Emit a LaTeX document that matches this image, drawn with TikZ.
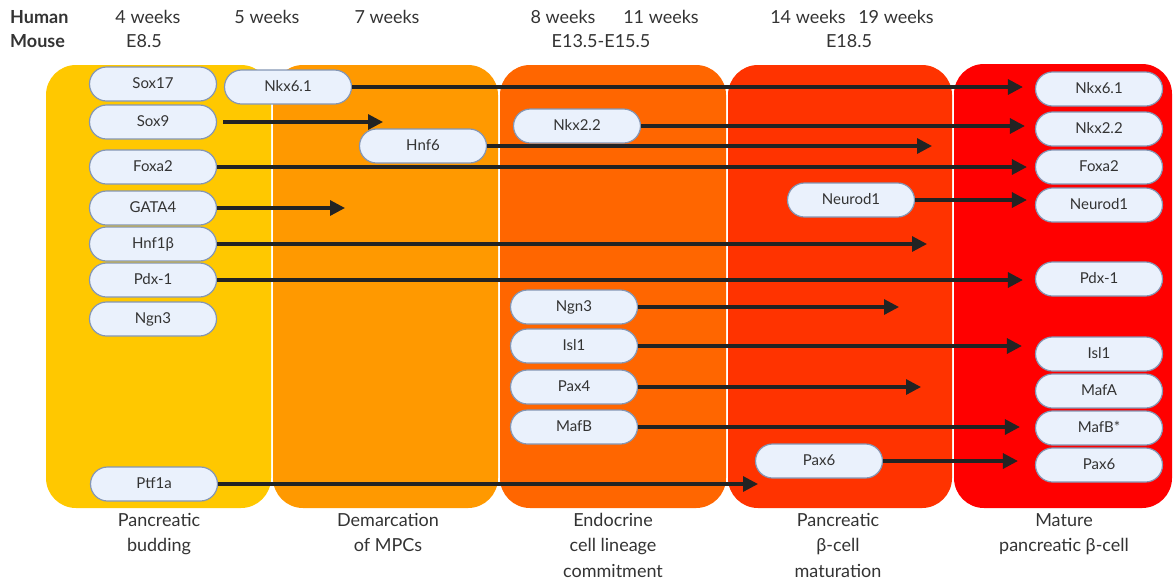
\documentclass[tikz,border=0pt]{standalone}
\usepackage{fontspec}
\setmainfont{Lato}
\usetikzlibrary{arrows.meta}
\definecolor{cA}{HTML}{FFC800}
\definecolor{cB}{HTML}{FF9900}
\definecolor{cC}{HTML}{FF6600}
\definecolor{cD}{HTML}{FF3300}
\definecolor{cE}{HTML}{FF0000}
\definecolor{boxfill}{HTML}{EAF1FC}
\definecolor{boxline}{HTML}{8496B4}
\definecolor{txt}{HTML}{333333}
\definecolor{arrc}{HTML}{232323}
\tikzset{
  panel/.style={rounded corners=30pt},
  gene/.style={draw=boxline, fill=boxfill, line width=1.2pt, rounded corners=17pt,
    minimum width=127pt, minimum height=34pt, inner sep=0pt,
    text=txt, font=\fontsize{15}{18}\selectfont, text height=11pt, text depth=3pt},
  arr/.style={draw=arrc, line width=3.2pt, -{Triangle[length=15pt,width=15pt]}},
  hdr/.style={text=txt, font=\fontsize{18}{20}\selectfont, inner sep=0pt},
  stage/.style={text=txt, font=\fontsize{18}{25.5}\selectfont, align=center, inner sep=0pt, anchor=north}
}
\begin{document}
\begin{tikzpicture}[x=1pt,y=-1pt]
\useasboundingbox (0,0) rectangle (1174,582);
% panels
\fill[cA,panel] (46,65) rectangle (271,508);
\fill[cB,panel] (273,65) rectangle (498,508);
\fill[cC,panel] (500,65) rectangle (726,508);
\fill[cD,panel] (728,65) rectangle (952,508);
\fill[cE,panel] (954,64) rectangle (1172,508);
% header
\node[hdr,anchor=west,font=\fontsize{18}{20}\selectfont\bfseries] (hum) at (10,17) {Human};
\node[hdr,anchor=west,font=\fontsize{18}{20}\selectfont\bfseries] (mou) at (10,41) {Mouse};
\node[hdr] (w4) at (148,17) {4 weeks};
\node[hdr] (w5) at (267,17) {5 weeks};
\node[hdr] (w7) at (387,17) {7 weeks};
\node[hdr] (w8) at (563,17) {8 weeks};
\node[hdr] (w11) at (661,17) {11 weeks};
\node[hdr] (w14) at (808,17) {14 weeks};
\node[hdr] (w19) at (896,17) {19 weeks};
\node[hdr] (e85) at (144,41) {E8.5};
\node[hdr] (e135) at (601,41) {E13.5-E15.5};
\node[hdr] (e185) at (849,41) {E18.5};
% stage labels
\node[stage] (s1) at (159,513) {Pancreatic\\budding};
\node[stage] (s2) at (388,513) {Demarcation\\of MPCs};
\node[stage] (s3) at (613,513) {Endocrine\\cell lineage\\commitment};
\node[stage] (s4) at (838,513) {Pancreatic\\β-cell\\maturation};
\node[stage] (s5) at (1064,513) {Mature\\pancreatic β-cell};
% column 1
\node[gene] (sox17) at (153,84) {Sox17};
\node[gene] (sox9) at (153,122) {Sox9};
\node[gene] (foxa2a) at (153,167) {Foxa2};
\node[gene] (gata4) at (153,208) {GATA4};
\node[gene] (hnf1b) at (153,244) {Hnf1β};
\node[gene] (pdx1a) at (153,280) {Pdx-1};
\node[gene] (ngn3a) at (153,319) {Ngn3};
\node[gene] (ptf1a) at (154,484) {Ptf1a};
% column 2
\node[gene] (nkx61a) at (288,87) {Nkx6.1};
\node[gene] (hnf6) at (423,146) {Hnf6};
% column 3
\node[gene] (nkx22a) at (577,126) {Nkx2.2};
\node[gene] (ngn3b) at (574,307) {Ngn3};
\node[gene] (isl1a) at (574,346) {Isl1};
\node[gene] (pax4) at (574,387) {Pax4};
\node[gene] (mafb) at (574,427) {MafB};
% column 4
\node[gene] (neurod1a) at (851,200) {Neurod1};
\node[gene] (pax6a) at (819,461) {Pax6};
% column 5
\node[gene] (nkx61b) at (1099,89) {Nkx6.1};
\node[gene] (nkx22b) at (1099,129) {Nkx2.2};
\node[gene] (foxa2b) at (1099,167) {Foxa2};
\node[gene] (neurod1b) at (1099,205) {Neurod1};
\node[gene] (pdx1b) at (1099,279) {Pdx-1};
\node[gene] (isl1b) at (1099,354) {Isl1};
\node[gene] (mafa) at (1099,391) {MafA};
\node[gene] (mafbs) at (1099,428) {MafB*};
\node[gene] (pax6b) at (1099,465) {Pax6};
% free arrow ends
\coordinate (sox9end) at (383,122);
\coordinate (gata4end) at (345,208);
\coordinate (hnf6end) at (932,146);
\coordinate (hnf1bend) at (927,244);
\coordinate (ngn3end) at (899,307);
\coordinate (pax4end) at (921,387);
\coordinate (ptf1aend) at (758,484);
% arrows
\draw[arr,shorten >=12pt] (nkx61a.east) -- (nkx61a.east -| nkx61b.west);
\draw[arr,shorten <=6pt] (sox9.east) -- (sox9end);
\draw[arr] (hnf6.east) -- (hnf6end);
\draw[arr,shorten >=10pt] (nkx22a.east) -- (nkx22a.east -| nkx22b.west);
\draw[arr,shorten >=8pt] (foxa2a.east) -- (foxa2a.east -| foxa2b.west);
\draw[arr] (gata4.east) -- (gata4end);
\draw[arr,shorten >=8pt] (neurod1a.east) -- (neurod1a.east -| neurod1b.west);
\draw[arr] (hnf1b.east) -- (hnf1bend);
\draw[arr,shorten >=12pt] (pdx1a.east) -- (pdx1a.east -| pdx1b.west);
\draw[arr] (ngn3b.east) -- (ngn3end);
\draw[arr,shorten >=13pt] (isl1a.east) -- (isl1a.east -| isl1b.west);
\draw[arr] (pax4.east) -- (pax4end);
\draw[arr,shorten >=15pt] (mafb.east) -- (mafb.east -| mafbs.west);
\draw[arr,shorten >=17pt] (pax6a.east) -- (pax6a.east -| pax6b.west);
\draw[arr] (ptf1a.east) -- (ptf1aend);
\end{tikzpicture}
\end{document}
